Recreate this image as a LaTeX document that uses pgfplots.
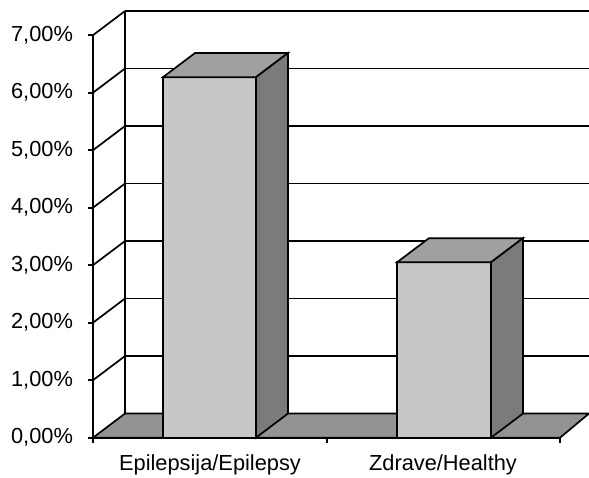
\documentclass[border=0pt]{standalone}
\usepackage{pgfplots}
\pgfplotsset{compat=1.18}
\usepackage{fontspec}
\setmainfont{Liberation Sans}
\definecolor{frontc}{HTML}{C6C7C9}
\definecolor{topc}{HTML}{A0A0A1}
\definecolor{sidec}{HTML}{7B7B7D}
\definecolor{floorc}{HTML}{939394}
\begin{document}
\begin{tikzpicture}
\begin{axis}[
  x=0.5pt, y=28.75pt,
  xmin=93, xmax=560, ymin=0, ymax=7,
  enlargelimits=false,
  axis x line=bottom, axis y line=left,
  axis line style={-, line width=0.85pt, black},
  clip=false,
  ytick={0,1,2,3,4,5,6,7},
  yticklabels={{0,00\%},{1,00\%},{2,00\%},{3,00\%},{4,00\%},{5,00\%},{6,00\%},{7,00\%}},
  xtick={93,327,560}, xticklabels={},
  extra x ticks={210,443},
  extra x tick labels={Epilepsija/Epilepsy, Zdrave/Healthy},
  extra x tick style={major tick length=0pt},
  tick align=outside, major tick length=2.5pt,
  tick style={line width=0.85pt, black},
  tick label style={font=\fontsize{10.9}{12}\selectfont},
  yticklabel style={xshift=-4pt},
  xticklabel style={yshift=-5pt},
  every axis plot/.append style={line width=0.85pt, black},
]
% back wall gridlines
\addplot[black] coordinates {(125,1.42) (589,1.42)};
\addplot[black] coordinates {(125,2.42) (589,2.42)};
\addplot[black] coordinates {(125,3.42) (589,3.42)};
\addplot[black] coordinates {(125,4.42) (589,4.42)};
\addplot[black] coordinates {(125,5.42) (589,5.42)};
\addplot[black] coordinates {(125,6.42) (589,6.42)};
\addplot[black] coordinates {(125,7.42) (589,7.42)};
% left wall
\addplot[black] coordinates {(125,0.42) (125,7.42)};
\addplot[black] coordinates {(93,1) (125,1.42)};
\addplot[black] coordinates {(93,2) (125,2.42)};
\addplot[black] coordinates {(93,3) (125,3.42)};
\addplot[black] coordinates {(93,4) (125,4.42)};
\addplot[black] coordinates {(93,5) (125,5.42)};
\addplot[black] coordinates {(93,6) (125,6.42)};
\addplot[black] coordinates {(93,7) (125,7.42)};
% floor
\addplot[fill=floorc, draw=black] coordinates {(93,0) (560,0) (589,0.42) (125,0.42)} -- cycle;
% bar 1: Epilepsija/Epilepsy = 6.27
\addplot[fill=frontc, draw=black] coordinates {(163,0) (256,0) (256,6.27) (163,6.27)} -- cycle;
\addplot[fill=topc, draw=black] coordinates {(163,6.27) (256,6.27) (288,6.69) (195,6.69)} -- cycle;
\addplot[fill=sidec, draw=black] coordinates {(256,0) (288,0.42) (288,6.69) (256,6.27)} -- cycle;
% bar 2: Zdrave/Healthy = 3.05
\addplot[fill=frontc, draw=black] coordinates {(397,0) (491,0) (491,3.05) (397,3.05)} -- cycle;
\addplot[fill=topc, draw=black] coordinates {(397,3.05) (491,3.05) (523,3.47) (429,3.47)} -- cycle;
\addplot[fill=sidec, draw=black] coordinates {(491,0) (523,0.42) (523,3.47) (491,3.05)} -- cycle;
\coordinate (bbsw) at (axis cs:0,-0.684);
\coordinate (bbne) at (axis cs:589,7.612);
\end{axis}
\pgfresetboundingbox
\path[use as bounding box] (bbsw) rectangle (bbne);
\end{tikzpicture}
\end{document}
